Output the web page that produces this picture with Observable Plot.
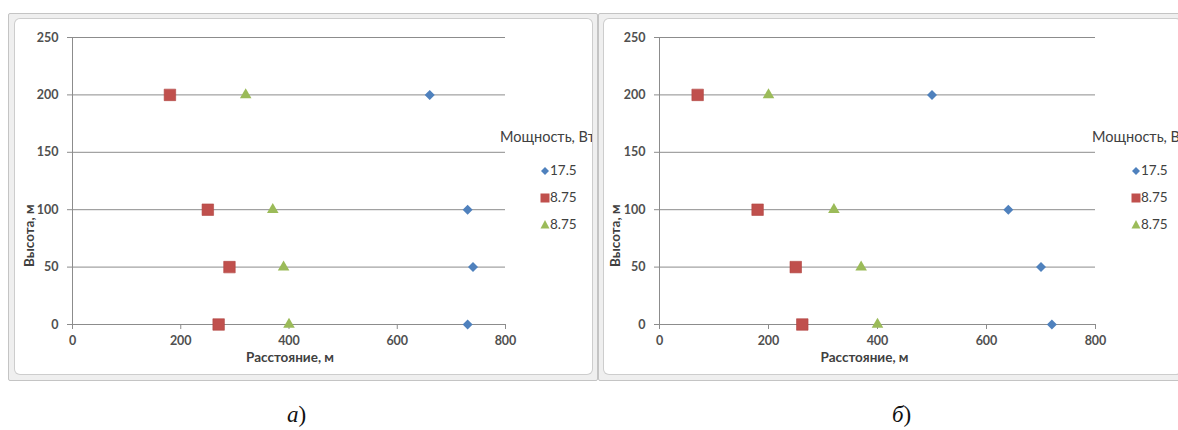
<!DOCTYPE html>
<html><head><meta charset="utf-8">
<script src="https://cdn.jsdelivr.net/npm/d3@7"></script>
<script src="https://cdn.jsdelivr.net/npm/@observablehq/plot@0.6"></script>
<style>
body{margin:0;background:#fff;width:1178px;height:430px;overflow:hidden;position:relative;font-family:Lato,"Open Sans",sans-serif}
.outer{position:absolute;background:#efefef;border:1px solid #c4c4c4;box-sizing:border-box;border-radius:2px}
.inner{position:absolute;background:#fff;box-shadow:0 0 0 1px #cdcdcd;border-radius:5px;overflow:hidden}
.inner svg.plot{position:absolute;left:0;top:0}
.lg{position:absolute;color:#404040;white-space:nowrap;line-height:1}
.cap{position:absolute;font-family:"Liberation Serif","DejaVu Serif",serif;font-size:23px;color:#111;line-height:1}
</style></head>
<body>
<script>
// ---- data ----
const heights = [200, 100, 50, 0];
const seriesNames = ["17.5", "8.75", "8.75"];
const legendTitle = "Мощность, Вт";
const xLabel = "Расстояние, м";
const yLabel = "Высота, м";
const captions = ["а", "б"];
const xTicks = [0, 200, 400, 600, 800];
const yTicks = [0, 50, 100, 150, 200, 250];
// panel a
const a_17_5 = [660, 730, 740, 730];
const a_8_75_sq = [180, 250, 290, 270];
const a_8_75_tri = [320, 370, 390, 400];
// panel б
const b_17_5 = [500, 640, 700, 720];
const b_8_75_sq = [70, 180, 250, 262];
const b_8_75_tri = [200, 320, 370, 400];

const colors = ["#4F81BD", "#C0504D", "#9BBB59"];
const diamond = {draw(ctx, size){const h = Math.sqrt(size/2); ctx.moveTo(0,-h); ctx.lineTo(h,0); ctx.lineTo(0,h); ctx.lineTo(-h,0); ctx.closePath();}};
const symbols = [diamond, "square", "triangle"];
const radii = [4.0, 6.5, 4.3];

function rows(xs){ return heights.map((h,i)=>({x: xs[i], y: h})); }

function makePlot(series, ml, mr, xlabDx, ylabDx){
  const gray = "#8c8c8c";
  const marks = [
    Plot.gridY(yTicks, {stroke: gray, strokeOpacity: 1, strokeWidth: 1}),
    Plot.ruleX([0], {stroke: gray}),
    Plot.axisX(xTicks, {tickSize: 5, tickPadding: 7, stroke: gray, fill: "#505050", fontWeight: "bold", label: null}),
    Plot.axisY(yTicks, {tickSize: 5, tickPadding: 9, stroke: gray, fill: "#505050", fontWeight: "bold", label: null}),
    Plot.text([xLabel], {frameAnchor: "bottom", dy: 37, dx: xlabDx, fontWeight: "bold", fontSize: 13.5, fill: "#404040"}),
    Plot.text([yLabel], {frameAnchor: "left", rotate: -90, dx: ylabDx, dy: 86, fontWeight: "bold", fontSize: 13.5, fill: "#404040"})
  ];
  series.forEach((s, k) => {
    marks.push(Plot.dot(rows(s), {x: "x", y: "y", symbol: symbols[k], r: radii[k], fill: colors[k], stroke: k===1 ? "#b04542" : "none", strokeWidth: 0.6}));
  });
  return Plot.plot({
    width: 577, height: 355,
    marginLeft: ml, marginRight: mr, marginTop: 18, marginBottom: 50,
    x: {domain: [0, 800]},
    y: {domain: [0, 250]},
    style: {fontFamily: "Lato, 'Open Sans', sans-serif", fontSize: "12.5px", background: "transparent", overflow: "visible"},
    marks
  });
}

function legendSym(k, cx, cy, s){
  const svg = d3.create("svg").attr("width", 20).attr("height", 20)
    .style("position","absolute").style("left",(cx-10)+"px").style("top",(cy-10)+"px");
  let d;
  if (k===0) d = `M10,${10-s/2}L${10+s/2},10L10,${10+s/2}L${10-s/2},10Z`;
  else if (k===1) d = `M${10-s/2},${10-s/2}h${s}v${s}h${-s}Z`;
  else d = `M10,${10-s*0.55}L${10+s/2},${10+s*0.4}L${10-s/2},${10+s*0.4}Z`;
  svg.append("path").attr("d", d).attr("fill", colors[k]);
  return svg.node();
}

function panel(outerLeft, innerLeft, series, ml, mr, legX, titleX, xlabDx, ylabDx, capX, cap){
  const outer = document.createElement("div");
  outer.className = "outer";
  Object.assign(outer.style, {left: outerLeft+"px", top: "13px", width: (innerLeft===15?590:600)+"px", height: "368px"});
  document.body.appendChild(outer);
  const inner = document.createElement("div");
  inner.className = "inner";
  Object.assign(inner.style, {left: innerLeft+"px", top: "19px", width: "577px", height: "355px"});
  document.body.appendChild(inner);
  const p = makePlot(series, ml, mr, xlabDx, ylabDx);
  p.classList.add("plot");
  inner.appendChild(p);
  // legend (page coords -> inner coords)
  const ox = innerLeft, oy = 19;
  const t = document.createElement("div");
  t.className = "lg"; t.textContent = legendTitle;
  Object.assign(t.style, {left: (titleX-ox)+"px", top: (138-oy-8)+"px", fontSize: "14.5px"});
  inner.appendChild(t);
  const ys = [171, 198, 225];
  const sz = [8, 9, 9];
  seriesNames.forEach((n, k) => {
    inner.appendChild(legendSym(k, legX-ox, ys[k]-oy, sz[k]));
    const s = document.createElement("div");
    s.className = "lg"; s.textContent = n;
    Object.assign(s.style, {left: (legX+5-ox)+"px", top: (ys[k]-oy-7)+"px", fontSize: "13.5px"});
    inner.appendChild(s);
  });
  const c = document.createElement("div");
  c.className = "cap";
  c.innerHTML = `<i>${cap}</i>)`;
  Object.assign(c.style, {left: capX+"px", top: "403px"});
  document.body.appendChild(c);
}

panel(8, 15, [a_17_5, a_8_75_sq, a_8_75_tri], 57, 87, 545, 500, 1, -43, 287, captions[0]);
panel(598, 604, [b_17_5, b_8_75_sq, b_8_75_tri], 55, 86, 1136, 1092, -13, -44, 892, captions[1]);
</script>
</body></html>
